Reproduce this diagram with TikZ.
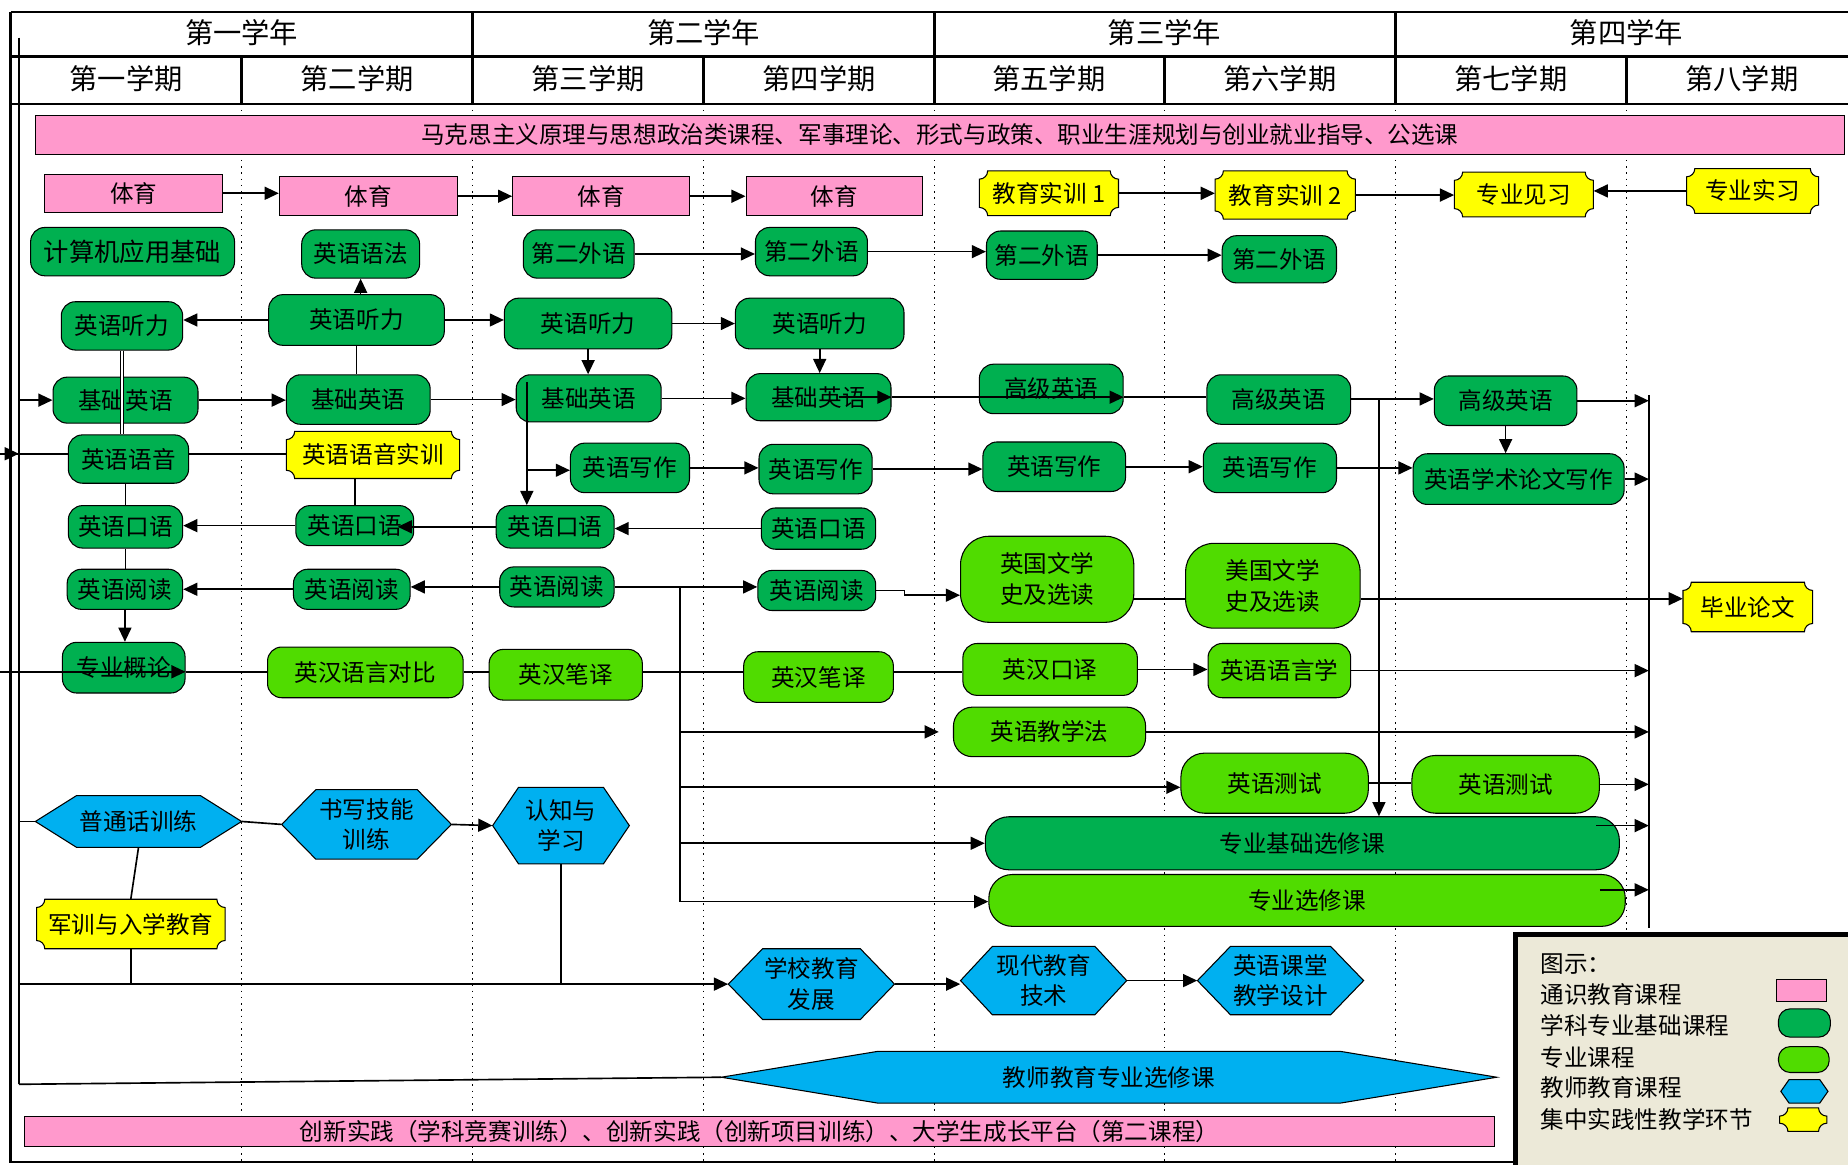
\documentclass[tikz,border=0pt]{standalone}
\usepackage{fontspec}
\setmainfont{Noto Sans CJK SC}
\usetikzlibrary{arrows.meta,calc}
\definecolor{pinkc}{HTML}{FF99CC}
\definecolor{dgc}{HTML}{00B050}
\definecolor{lgc}{RGB}{80,220,0}
\definecolor{bluec}{HTML}{00B0F0}
\definecolor{yelc}{HTML}{FFFF00}
\definecolor{legc}{HTML}{ECE9D8}
% box: style, name, cx, cy, w, h, text
\newcommand{\bx}[7]{\node[#1, minimum width=#5pt, minimum height=#6pt] (#2) at (#3,#4) {#7};}
% hexagon: name, cx, cy, w, h, point, text
\newcommand{\hx}[7]{%
 \pgfmathsetmacro{\pza}{#2-#4/2}\pgfmathsetmacro{\pzb}{#2+#4/2}%
 \pgfmathsetmacro{\pzc}{#3-#5/2}\pgfmathsetmacro{\pzd}{#3+#5/2}%
 \pgfmathsetmacro{\pze}{#2-#4/2+#6}\pgfmathsetmacro{\pzf}{#2+#4/2-#6}%
 \path[hexfill] (\pza,#3) -- (\pze,\pzc) -- (\pzf,\pzc) -- (\pzb,#3) -- (\pzf,\pzd) -- (\pze,\pzd) -- cycle;
 \node[txt, minimum width=#4pt, minimum height=#5pt] (#1) at (#2,#3) {#7};}
% plaque: name, cx, cy, w, h, text
\newcommand{\pq}[6]{%
 \pgfmathsetmacro{\pza}{#2-#4/2}\pgfmathsetmacro{\pzb}{#2+#4/2}%
 \pgfmathsetmacro{\pzc}{#3-#5/2}\pgfmathsetmacro{\pzd}{#3+#5/2}%
 \def\pzr{7}%
 \path[plqfill] (\pza+\pzr,\pzc) -- (\pzb-\pzr,\pzc)
   .. controls (\pzb-\pzr,\pzc+0.55*\pzr) and (\pzb-0.55*\pzr,\pzc+\pzr) .. (\pzb,\pzc+\pzr)
   -- (\pzb,\pzd-\pzr)
   .. controls (\pzb-0.55*\pzr,\pzd-\pzr) and (\pzb-\pzr,\pzd-0.55*\pzr) .. (\pzb-\pzr,\pzd)
   -- (\pza+\pzr,\pzd)
   .. controls (\pza+\pzr,\pzd-0.55*\pzr) and (\pza+0.55*\pzr,\pzd-\pzr) .. (\pza,\pzd-\pzr)
   -- (\pza,\pzc+\pzr)
   .. controls (\pza+0.55*\pzr,\pzc+\pzr) and (\pza+\pzr,\pzc+0.55*\pzr) .. cycle;
 \node[txt, minimum width=#4pt, minimum height=#5pt] (#1) at (#2,#3) {#6};}
\begin{document}
\begin{tikzpicture}[x=1pt,y=-1pt,
 base/.style={draw=black, line width=0.9pt, inner sep=0pt, align=center, font=\fontsize{20}{26}\selectfont},
 pinkbox/.style={base, fill=pinkc},
 dgbox/.style={base, fill=dgc, rounded corners=12pt},
 lgbox/.style={base, fill=lgc, rounded corners=12pt},
 txt/.style={inner sep=0pt, align=center, font=\fontsize{20}{26}\selectfont},
 hd/.style={inner sep=0pt, font=\fontsize{24}{28}\selectfont},
 hexfill/.style={draw=black, line width=0.9pt, fill=bluec},
 plqfill/.style={draw=black, line width=0.9pt, fill=yelc},
 conn/.style={line width=1.4pt},
 arr/.style={conn, -{Triangle[length=12pt,width=11pt]}},
 gridl/.style={line width=1.2pt, dash pattern=on 1.3pt off 4pt},
 framel/.style={line width=2pt}]
\useasboundingbox (0,0) rectangle (1568,988);
% dotted semester lines
\foreach \gx in {205,401,597,793,988,1184,1380} \draw[gridl] (\gx,88) -- (\gx,986);
% frame and header
\draw[framel] (9,10) -- (1568,10);
\draw[framel] (9,48) -- (1568,48);
\draw[framel] (9,88) -- (1568,88);
\draw[framel] (9,10) -- (9,986) -- (1286,986);
\foreach \gx in {401,793,1184} \draw[framel] (\gx,10) -- (\gx,88);
\foreach \gx in {205,597,988,1380} \draw[framel] (\gx,48) -- (\gx,88);
\node[hd] (yr1) at (205,28) {第一学年};
\node[hd] (yr2) at (597,28) {第二学年};
\node[hd] (yr3) at (988,28) {第三学年};
\node[hd] (yr4) at (1380,28) {第四学年};
\node[hd] (sm1) at (107,67) {第一学期};
\node[hd] (sm2) at (303,67) {第二学期};
\node[hd] (sm3) at (499,67) {第三学期};
\node[hd] (sm4) at (695,67) {第四学期};
\node[hd] (sm5) at (890,67) {第五学期};
\node[hd] (sm6) at (1086,67) {第六学期};
\node[hd] (sm7) at (1282,67) {第七学期};
\node[hd] (sm8) at (1478,67) {第八学期};
% banners
\bx{pinkbox}{mk}{797.5}{114.5}{1535}{33}{马克思主义原理与思想政治类课程、军事理论、形式与政策、职业生涯规划与创业就业指导、公选课}
\bx{pinkbox}{cxsj}{644.5}{960}{1247}{26}{创新实践（学科竞赛训练）、创新实践（创新项目训练）、大学生成长平台（第二课程）}
% PE
\bx{pinkbox}{ty1}{113.5}{164}{151}{32}{体育}
\bx{pinkbox}{ty2}{312.5}{166.5}{151}{33}{体育}
\bx{pinkbox}{ty3}{510}{166.5}{150}{33}{体育}
\bx{pinkbox}{ty4}{708}{166.5}{150}{33}{体育}
% yellow practice
\pq{sx1}{890}{164}{118}{38}{教育实训 1}
\pq{sx2}{1090.5}{165.5}{119}{41}{教育实训 2}
\pq{jx}{1293}{165}{118}{38}{专业见习}
\pq{shx}{1487}{162}{112}{38}{专业实习}
\pq{yysx}{316.5}{386}{147}{40}{英语语音实训}
\pq{jxrx}{111}{784}{160}{42}{军训与入学教育}
\pq{bylw}{1483}{515}{110}{42}{毕业论文}
% dark green
\bx{dgbox, font=\fontsize{21.5}{26}\selectfont}{jsj}{112.5}{213.5}{173}{41}{计算机应用基础}
\bx{dgbox}{yf}{306}{215.5}{100}{41}{英语语法}
\bx{dgbox}{ew1}{491}{215.5}{94}{41}{第二外语}
\bx{dgbox}{ew2}{688.5}{213.5}{95}{41}{第二外语}
\bx{dgbox}{ew3}{884}{216.5}{94}{41}{第二外语}
\bx{dgbox}{ew4}{1085.5}{220}{97}{40}{第二外语}
\bx{dgbox}{tl1}{103.5}{276.5}{103}{41}{英语听力}
\bx{dgbox}{tl2}{302.5}{271.5}{149}{43}{英语听力}
\bx{dgbox}{tl3}{499}{274.5}{142}{43}{英语听力}
\bx{dgbox}{tl4}{695.5}{274.5}{143}{43}{英语听力}
\bx{dgbox}{jc1}{106.5}{339.5}{123}{39}{基础英语}
\bx{dgbox}{jc2}{304}{339}{122}{42}{基础英语}
\bx{dgbox}{jc3}{499.5}{338}{123}{40}{基础英语}
\bx{dgbox}{jc4}{694.5}{337}{123}{40}{基础英语}
\bx{dgbox}{gj1}{892}{330}{122}{42}{高级英语}
\bx{dgbox}{gj2}{1085}{339}{122}{42}{高级英语}
\bx{dgbox}{gj3}{1277.5}{340}{121}{42}{高级英语}
\bx{dgbox}{yy}{109}{389.5}{102}{41}{英语语音}
\bx{dgbox}{xz1}{534.5}{397}{101}{42}{英语写作}
\bx{dgbox}{xz2}{692}{398}{96}{42}{英语写作}
\bx{dgbox}{xz3}{894.5}{396}{121}{42}{英语写作}
\bx{dgbox}{xz4}{1077.5}{397}{113}{42}{英语写作}
\bx{dgbox}{xs}{1288.5}{406.5}{179}{43}{英语学术论文写作}
\bx{dgbox}{ky1}{106.5}{447}{97}{36}{英语口语}
\bx{dgbox}{ky2}{301}{446}{100}{34}{英语口语}
\bx{dgbox}{ky3}{471}{447}{100}{36}{英语口语}
\bx{dgbox}{ky4}{694.5}{448.5}{97}{35}{英语口语}
\bx{dgbox}{yd1}{106}{500}{98}{34}{英语阅读}
\bx{dgbox}{yd2}{298.5}{500}{99}{34}{英语阅读}
\bx{dgbox}{yd3}{472.5}{498}{97}{34}{英语阅读}
\bx{dgbox}{yd4}{693}{501}{100}{34}{英语阅读}
\bx{dgbox}{gl}{105}{566.5}{104}{43}{专业概论}
\bx{dgbox, rounded corners=20pt}{zjx}{1105}{715.5}{538}{45}{专业基础选修课}
% light green
\bx{lgbox}{db}{310}{570.5}{166}{43}{英汉语言对比}
\bx{lgbox}{by1}{480}{572.5}{130}{43}{英汉笔译}
\bx{lgbox}{by2}{694.5}{574.5}{127}{43}{英汉笔译}
\bx{lgbox}{kyi}{891}{568}{148}{44}{英汉口译}
\bx{lgbox}{yyx}{1085.5}{569}{121}{46}{英语语言学}
\bx{lgbox, rounded corners=24pt}{yg}{888.5}{491.5}{147}{73}{英国文学\\史及选读}
\bx{lgbox, rounded corners=24pt}{mg}{1080}{497}{148}{72}{美国文学\\史及选读}
\bx{lgbox, rounded corners=16pt}{jxf}{890.5}{621}{163}{42}{英语教学法}
\bx{lgbox, rounded corners=20pt}{cs1}{1081.5}{664.5}{159}{51}{英语测试}
\bx{lgbox, rounded corners=20pt}{cs2}{1277.5}{665.5}{159}{49}{英语测试}
\bx{lgbox, rounded corners=20pt}{zx}{1109}{764}{540}{44}{专业选修课}
% blue hexagons
\hx{pth}{117.5}{697}{175}{44}{35}{普通话训练}
\hx{sxj}{311}{699.5}{144}{59}{29}{书写技能\\训练}
\hx{rz}{476}{700.5}{116}{65}{22}{认知与\\学习}
\hx{xx}{688.5}{835}{141}{60}{29}{学校教育\\发展}
\hx{xd}{885.5}{832}{141}{58}{27}{现代教育\\技术}
\hx{kt}{1086.5}{832}{141}{58}{28}{英语课堂\\教学设计}
\hx{jsjy}{941}{914}{658}{44}{133}{教师教育专业选修课}
% ---- connectors ----
\draw[arr] (ty1.east) -- (ty1.east -| ty2.west);
\draw[arr] (ty2.east) -- (ty2.east -| ty3.west);
\draw[arr] (ty3.east) -- (ty3.east -| ty4.west);
\draw[arr] (sx1.east) -- (sx1.east -| sx2.west);
\draw[arr] (sx2.east) -- (sx2.east -| jx.west);
\draw[arr] (shx.west) -- (shx.west -| jx.east);
\draw[arr] (ew1.east) -- (ew1.east -| ew2.west);
\draw[arr] (ew2.east) -- (ew2.east -| ew3.west);
\draw[arr] (ew3.east) -- (ew3.east -| ew4.west);
% listening
\draw[arr] (tl2.west) -- (tl2.west -| tl1.east);
\draw[arr] (tl2.north -| yf.south) -- (yf.south);
\draw[conn] (tl2.south) -- (tl2.south |- jc2.north);
\draw[arr] (tl2.east) -- (tl2.east -| tl3.west);
\draw[arr] (tl3.east) -- (tl3.east -| tl4.west);
\draw[arr] (tl3.south) -- (tl3.south |- jc3.north);
\draw[arr] (tl4.south) -- (tl4.south |- jc4.north);
% first column chain
\draw[line width=0.8pt, double, double distance=1.8pt] (tl1.south) -- (tl1.south |- yy.north);
\draw[conn] (yy.south -| ky1.north) -- (ky1.north);
\draw[conn] (ky1.south) -- (ky1.south |- yd1.north);
\draw[arr] (yd1.south) -- (yd1.south |- gl.north);
% left bus
\coordinate (bS) at (16,920);
\draw[conn] (16,32) -- (bS);
\coordinate (bL) at (16,339.5);
\draw[arr] (bL) -- (jc1.west);
% basic English
\draw[arr] (jc1.east) -- (jc1.east -| jc2.west);
\draw[arr] (jc2.east) -- (jc2.east -| jc3.west);
\draw[arr] (jc3.east) -- (jc3.east -| jc4.west);
\draw[arr] ($(jc4.east)+(-45,0)$) -- (jc4.east);
\draw[arr] (jc4.east) -- (jc4.east -| gj1.east);
\draw[conn] (jc4.east -| gj1.east) -- (jc4.east -| gj2.west);
% advanced English
\coordinate (jn) at (1170,338.5);
\coordinate (bR) at (1399,335);
\coordinate (bRe) at (1399,787);
\draw[conn] (bR) -- (bRe);
\draw[arr] (gj2.east |- jn) -- (jn -| gj3.west);
\draw[arr] (jn) -- (jn |- zjx.north);
\draw[arr] (gj3.east) -- (gj3.east -| bR);
\draw[arr] (gj3.south) -- (gj3.south |- xs.north);
% phonetics
\coordinate (L1) at (0,385);
\draw[conn] (L1) -- (L1 -| yy.west);
\draw[arr] (L1) -- ++(16,0);
\draw[conn] (yy.east |- L1) -- (L1 -| yysx.west);
\draw[conn] (yysx.south -| ky2.north) -- (ky2.north);
% branch from jc3
\coordinate (v2) at (447,324);
\coordinate (v3) at (447,399);
\draw[arr] (v2) -- (v2 |- ky3.north);
\draw[arr] (v3) -- (v3 -| xz1.west);
% writing
\draw[arr] (xz1.east) -- (xz1.east -| xz2.west);
\draw[arr] (xz2.east) -- (xz2.east -| xz3.west);
\draw[arr] (xz3.east) -- (xz3.east -| xz4.west);
\draw[arr] (xz4.east) -- (xz4.east -| xs.west);
\draw[arr] (xs.east) -- (xs.east -| bR);
% speaking
\draw[arr] (ky2.west) -- (ky2.west -| ky1.east);
\draw[arr] (ky3.west) -- ($(ky3.west -| ky2.east)+(-14,0)$);
\draw[arr] (ky4.west) -- (ky4.west -| ky3.east);
% reading
\draw[arr] (yd2.west) -- (yd2.west -| yd1.east);
\draw[arr] (yd3.west) -- (yd3.west -| yd2.east);
\draw[arr] (yd3.east) -- (yd3.east -| yd4.west);
\coordinate (r505) at (0,505);
\draw[arr] (yd4.east) -- ++(24,0) |- (r505 -| yg.west);
\coordinate (v4) at (577,498);
\coordinate (v4b) at (577,765);
\draw[conn] (v4) -- (v4b);
\draw[arr] (v4 |- jxf.west) -- ($(jxf.west)+(-12,0)$);
\coordinate (r668) at (0,668);
\draw[arr] (v4 |- r668) -- (r668 -| cs1.west);
\draw[arr] (v4 |- zjx.west) -- (zjx.west);
\draw[arr] (v4b) -- (v4b -| zx.west);
% literature
\coordinate (r508) at (0,508);
\draw[conn] (yg.east |- r508) -- (r508 -| mg.west);
\draw[arr] (mg.east |- r508) -- (r508 -| bylw.west);
% translation row
\coordinate (r570) at (0,570);
\draw[arr] (r570) -- (r570 -| gl.east);
\draw[conn] (r570 -| gl.east) -- (r570 -| db.west);
\draw[conn] (r570 -| db.east) -- (r570 -| by1.west);
\draw[conn] (r570 -| by1.east) -- (r570 -| by2.west);
\draw[conn] (r570 -| by2.east) -- (r570 -| kyi.west);
\draw[arr] (kyi.east) -- (kyi.east -| yyx.west);
\draw[arr] (yyx.east) -- (yyx.east -| bR);
% methodology, testing, electives
\draw[arr] (jxf.east) -- (jxf.east -| bR);
\draw[conn] (cs1.east) -- (cs1.east -| cs2.west);
\draw[arr] (cs2.east) -- (cs2.east -| bR);
\coordinate (zjo) at ($(zjx.east)+(-20,-15)$);
\draw[arr] (zjo) -- (zjo -| bR);
\coordinate (zxo) at ($(zx.east)+(-22,-9)$);
\draw[arr] (zxo) -- (zxo -| bR);
% teacher education
\coordinate (bP) at (16,697);
\draw[conn] (bP) -- (pth.west);
\draw[conn] (pth.east) -- (sxj.west);
\draw[arr] (sxj.east) -- (rz.west);
\draw[conn] (pth.south) -- (jxrx.north);
\coordinate (bQ) at (16,835);
\draw[conn] (jxrx.south) -- (jxrx.south |- bQ);
\draw[conn] (rz.south) -- (rz.south |- bQ);
\draw[arr] (bQ) -- (bQ -| xx.west);
\draw[arr] (xx.east) -- (xx.east -| xd.west);
\draw[arr] (xd.east) -- (xd.east -| kt.west);
\draw[conn] (bS) -- (jsjy.west);
% legend
\draw[line width=4pt, fill=legc] (1286,793) rectangle (1580,1000);
\node[txt, anchor=west] (lg0) at (1307,818) {图示：};
\node[txt, anchor=west] (lg1) at (1307,844) {通识教育课程};
\node[txt, anchor=west] (lg2) at (1307,870) {学科专业基础课程};
\node[txt, anchor=west] (lg3) at (1307,897) {专业课程};
\node[txt, anchor=west] (lg4) at (1307,923) {教师教育课程};
\node[txt, anchor=west] (lg5) at (1307,950) {集中实践性教学环节};
\bx{pinkbox}{sw1}{1528.5}{840.5}{43}{19}{}
\bx{dgbox, rounded corners=10pt}{sw2}{1531}{868}{44}{24}{}
\bx{lgbox, rounded corners=10pt}{sw3}{1530.5}{899}{43}{22}{}
\hx{sw4}{1531}{926}{40}{20}{7}{}
\pq{sw5}{1530}{950}{40}{20}{}
\end{tikzpicture}
\end{document}
